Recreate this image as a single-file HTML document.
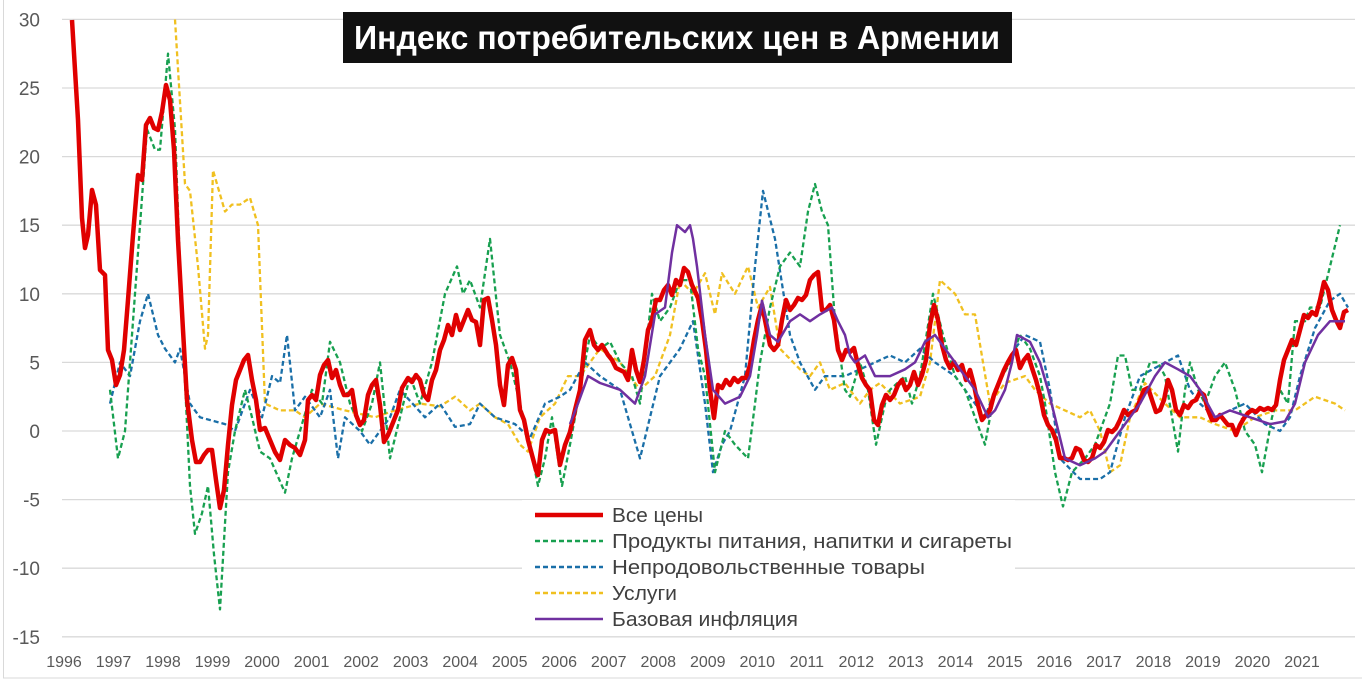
<!DOCTYPE html>
<html><head><meta charset="utf-8"><style>
html,body{margin:0;padding:0;background:#fff}
svg{display:block}
</style></head><body>
<svg id="s" width="1362" height="685" xmlns="http://www.w3.org/2000/svg" font-family="Liberation Sans, DejaVu Sans, sans-serif">
<rect x="3.5" y="-2" width="1370" height="680" fill="none" stroke="#d9d9d9" stroke-width="1"/>
<g id="grid" stroke="#d9d9d9" stroke-width="1.3"></g>
<g id="ylab" font-size="19" fill="#595959" text-anchor="end"></g>
<g id="xlab" font-size="16" fill="#595959" text-anchor="middle"></g>
<g id="series" fill="none" stroke-linejoin="round"></g>
<rect x="343" y="12" width="669" height="51" fill="#111"/>
<text x="677" y="49" fill="#fff" font-size="33" font-weight="bold" text-anchor="middle" font-family="Liberation Sans Narrow, Liberation Sans, sans-serif" textLength="646" lengthAdjust="spacingAndGlyphs">Индекс потребительских цен в Армении</text>
<rect x="522" y="500" width="493" height="136" fill="#fff"/>
<g font-size="20" fill="#404040">
<line x1="535" y1="515" x2="603" y2="515" stroke="#e00000" stroke-width="4.5"/><text x="612" y="522" textLength="91" lengthAdjust="spacingAndGlyphs">Все цены</text>
<line x1="535" y1="541" x2="603" y2="541" stroke="#18a050" stroke-width="2.5" stroke-dasharray="5,3"/><text x="612" y="548" textLength="400" lengthAdjust="spacingAndGlyphs">Продукты питания, напитки и сигареты</text>
<line x1="535" y1="567" x2="603" y2="567" stroke="#1a6fa8" stroke-width="2.5" stroke-dasharray="5,3"/><text x="612" y="574" textLength="313" lengthAdjust="spacingAndGlyphs">Непродовольственные товары</text>
<line x1="535" y1="593" x2="603" y2="593" stroke="#f0c020" stroke-width="2.5" stroke-dasharray="5,3"/><text x="612" y="600" textLength="65" lengthAdjust="spacingAndGlyphs">Услуги</text>
<line x1="535" y1="619" x2="603" y2="619" stroke="#7030a0" stroke-width="2.5"/><text x="612" y="626" textLength="186" lengthAdjust="spacingAndGlyphs">Базовая инфляция</text>
</g>
</svg>
<script>
var NS="http://www.w3.org/2000/svg";
function Y(v){return 431-13.72*v;}
var g=document.getElementById('grid'),yl=document.getElementById('ylab'),xl=document.getElementById('xlab');
for(var v=30;v>=-15;v-=5){var l=document.createElementNS(NS,'line');l.setAttribute('x1',62);l.setAttribute('x2',1355);l.setAttribute('y1',Y(v));l.setAttribute('y2',Y(v));g.appendChild(l);
var t=document.createElementNS(NS,'text');t.setAttribute('x',40);t.setAttribute('y',Y(v)+7);t.textContent=v;yl.appendChild(t);}
for(var yr=1996;yr<=2021;yr++){var t=document.createElementNS(NS,'text');t.setAttribute('x',64+(yr-1996)*49.52);t.setAttribute('y',667);t.textContent=yr;xl.appendChild(t);}
function add(pts,color,w,dash){var p=document.createElementNS(NS,'polyline');p.setAttribute('points',pts.map(function(a){return a[0]+','+a[1].toFixed(1)}).join(' '));p.setAttribute('stroke',color);p.setAttribute('stroke-width',w);if(dash)p.setAttribute('stroke-dasharray',dash);document.getElementById('series').insertBefore(p,document.getElementById('series').firstChild);}
function conv(a){var r=[];for(var i=0;i<a.length;i+=2)r.push([a[i],Y(a[i+1])]);return r;}
var yellow=conv([175,30,185,18,190,17.5,198,12,205,6,208,7,213,19,225,16,232,16.5,240,16.5,250,17,258,15,265,2,280,1.5,295,1.5,305,1,320,2,345,1.5,375,1,395,1.5,420,2,440,1.8,455,2.5,470,1.5,480,2,495,1,508,0.5,520,-1,528,-1.5,540,1,555,2,568,4,580,4,600,6,620,5,640,3,655,4,670,7,680,11,693,10,705,11.5,715,8.5,722,11.5,735,10,748,12,758,9,770,10.5,780,6,800,4.5,810,4,820,5,830,3,845,3.5,860,2,870,3,880,3.5,900,2,920,2.5,930,5,940,11,955,10,965,8.5,975,8.5,983,5,990,2,1005,3.5,1025,4,1035,3,1050,2,1065,1.5,1080,1,1090,1.5,1100,0,1110,-3,1120,-2.5,1130,1,1145,3.5,1165,2,1180,1,1200,1,1215,0.5,1235,0,1255,1,1275,1.5,1295,1.5,1315,2.5,1335,2,1345,1.5]);
var blue=conv([110,2,120,5,130,4,140,8,148,10,158,7,165,6,175,5,180,6,190,2,200,1,215,0.7,225,0.5,235,0,250,3,262,1,272,4,280,3.5,287,7,295,1.5,305,2.5,320,1,330,3,338,-2,345,1,360,0,370,-1,390,1,400,3,425,1,440,2,455,0.3,470,0.5,480,2,495,1,515,0.5,530,-0.5,545,2,560,2.5,570,3,585,5,600,4,620,3,640,-2,660,4,680,6,693,8,705,2,713,-3,722,-1,730,0,745,4,755,12,763,17.5,775,14,790,7,800,5,815,3,825,4,845,4,860,4.5,875,5,890,5.5,905,5,920,6,935,5,955,4,975,2,985,1,995,3,1015,6,1025,7,1040,6.5,1050,3,1060,-2,1080,-3.5,1100,-3.5,1110,-3,1125,1,1140,4,1178,5.5,1190,3,1200,2,1215,1,1230,1.5,1245,2,1265,0.5,1280,0,1290,1,1300,4,1315,7.5,1330,9.5,1340,10,1348,9]);
var green=conv([110,3,118,-2,125,0,135,10,147,22,155,20.5,160,20.5,168,27.5,175,22,182,8,190,-4,195,-7.5,202,-6,208,-4,214,-9,220,-13,228,-3,235,0,245,3,252,1,260,-1.5,270,-2,285,-4.5,292,-2,300,0,312,3,322,2,330,6.5,340,5,350,2,362,0,372,2,380,5,390,-2,400,1,410,4,420,2,432,5,445,10,457,12,463,10,470,11,480,9,490,14,500,7,510,5,520,2,530,-1,538,-4,545,-2,552,1,562,-4,570,-1,580,3,590,7,600,6,610,6.5,620,5,632,4,640,2,652,10,660,8,670,9,680,11,690,11,698,6,705,4,715,-3,725,0,735,-1,748,-2,755,2,760,5,770,9,780,12,790,13,800,12,808,16,815,18,822,16,828,15,835,8,845,3,850,2.5,860,5,868,3,876,-1,885,2,890,3,905,4,912,2,920,4,933,10,943,7,955,4,965,3,975,1,985,-1,995,3,1010,5,1020,7,1030,6,1040,4,1045,2,1055,-3,1063,-5.5,1072,-3,1085,-2,1095,-1,1110,2,1118,5.5,1125,5.5,1132,3,1140,3,1150,5,1158,5,1165,4,1172,1,1178,-1.5,1185,3,1190,5,1198,3,1205,2,1215,4,1225,5,1235,3,1245,0,1255,-1,1262,-3,1272,1,1280,3,1288,2,1295,8,1305,8,1310,9,1320,9,1330,12,1340,15]);
var purple=conv([570,0.5,578,2,588,4,600,3.5,620,3,635,2,645,4,655,8.5,665,9,672,13,677,15,685,14.5,690,15,693,14,697,12,705,7,713,3,725,2,740,2.5,750,4,757,7,762,9.5,770,7,778,6.5,790,8,800,8.5,810,8,820,8.5,832,9,838,8,845,7,850,5.5,855,5,865,5.5,875,4,890,4,905,4.5,915,5,925,6.5,935,7,945,6,955,5,965,4,975,3,988,1,995,1.5,1005,3,1012,5,1017,7,1030,6.5,1040,5,1048,3,1055,1,1065,-2,1080,-2.5,1095,-2,1105,-1.5,1120,0,1140,2,1155,4,1165,5,1178,4.5,1190,4,1200,3,1215,1,1230,1.5,1250,1,1270,0.5,1285,0.7,1295,2,1305,5,1318,7,1330,8,1345,8]);
var r=[72,20,78,120,82,218,85,248,88,235,92,190,96,205,100,270,105,275,108,350,112,360,116,385,120,375,124,350,128,300,133,235,138,175,142,180,146,125,150,118,154,128,158,130,162,112,166,85,170,100,174,150,178,240,183,330,187,400,192,440,196,462,200,462,204,455,208,450,212,450,216,480,220,508,224,490,228,445,232,405,236,380,240,370,244,360,248,355,252,380,256,400,260,430,265,428,270,440,275,452,280,460,285,440,290,445,295,448,300,455,305,440,308,400,312,395,316,400,320,375,324,365,328,360,332,378,336,370,340,385,344,395,348,395,352,390,356,415,360,425,364,420,368,395,372,385,376,380,380,405,384,442,388,435,392,425,398,410,402,388,408,378,412,382,416,375,420,380,424,395,428,400,432,380,436,370,440,350,444,340,448,325,452,335,456,315,460,330,464,320,468,310,472,320,476,322,480,345,484,300,488,298,492,320,496,345,500,385,504,405,508,365,512,358,516,370,520,410,524,420,528,440,532,455,536,470,538,475,542,440,546,430,550,432,555,430,560,465,565,445,570,432,575,410,580,390,585,340,590,330,594,345,598,350,602,345,608,355,612,360,616,368,620,370,624,372,628,380,632,350,636,370,640,382,644,360,648,330,652,320,656,300,660,300,664,290,668,285,672,295,676,280,680,285,684,268,688,272,692,285,698,298,702,320,706,350,710,390,714,418,718,385,722,388,726,380,730,385,734,378,738,382,742,378,746,378,750,365,754,340,758,320,762,305,766,325,770,345,774,350,778,345,782,320,786,300,790,310,794,305,798,298,802,300,806,295,810,280,814,275,818,272,822,310,826,310,830,305,834,320,838,350,842,360,846,350,850,352,854,348,858,365,862,378,866,385,870,390,874,420,878,425,882,405,886,395,890,400,894,395,898,385,902,380,906,390,910,385,914,372,918,385,922,375,926,360,930,325,934,305,938,320,942,345,946,360,950,368,954,362,958,370,962,365,966,380,970,370,974,385,978,405,982,420,986,415,990,410,994,395,998,385,1004,370,1008,362,1012,355,1016,350,1020,368,1024,360,1028,355,1032,368,1036,380,1040,395,1044,415,1048,425,1052,430,1056,440,1060,458,1064,458,1068,460,1072,458,1076,448,1080,450,1084,460,1088,462,1092,458,1096,445,1100,448,1104,442,1108,430,1112,432,1116,428,1120,420,1124,410,1128,415,1132,412,1136,410,1140,400,1144,390,1148,388,1152,400,1156,412,1160,410,1164,400,1168,380,1172,390,1176,410,1180,415,1184,405,1188,408,1192,402,1196,400,1200,392,1204,395,1208,410,1212,420,1216,420,1220,415,1224,420,1228,425,1232,425,1236,435,1240,425,1244,418,1248,413,1252,410,1256,412,1260,408,1264,410,1268,408,1272,410,1276,405,1280,380,1284,360,1288,350,1292,340,1296,345,1300,330,1304,315,1308,318,1312,312,1316,315,1320,300,1324,282,1328,290,1332,310,1336,320,1340,328,1344,312,1348,310];
var red=[];for(var i=0;i<r.length;i+=2)red.push([r[i],r[i+1]]);
add(purple,'#7030a0',2.5);
add(red,'#e00000',4.5);
add(green,'#18a050',2.3,'5,3');
add(blue,'#1a6fa8',2.3,'5,3');
add(yellow,'#f0c020',2.3,'5,3');
</script>
</body></html>
